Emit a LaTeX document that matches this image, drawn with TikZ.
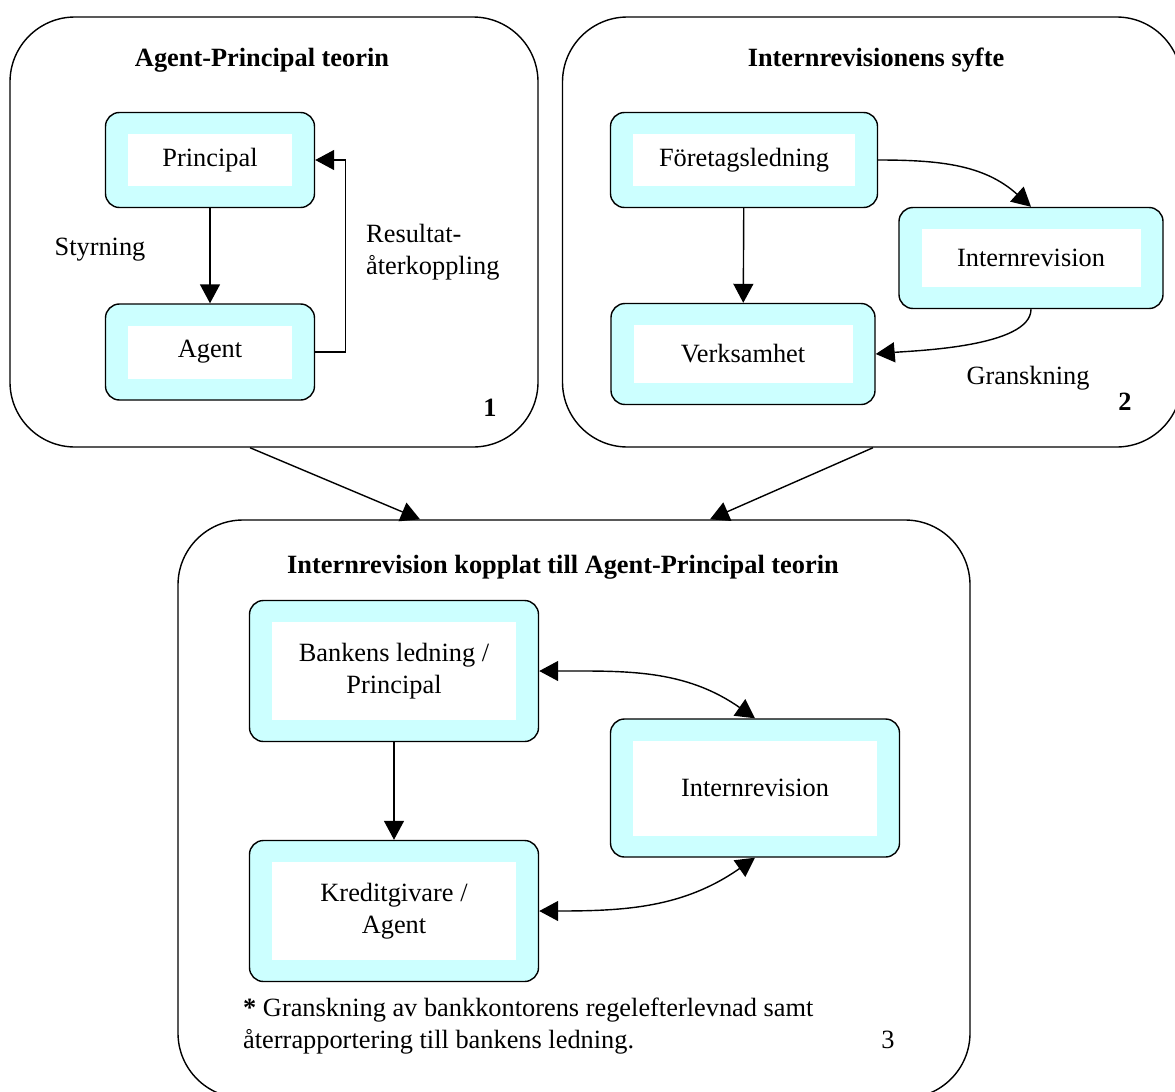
\documentclass[tikz,border=0pt]{standalone}
\usepackage{fontspec}
\setmainfont{Liberation Serif}
\usetikzlibrary{arrows.meta}
\definecolor{boxcyan}{RGB}{204,255,255}

\begin{document}
\begin{tikzpicture}[x=0.2mm,y=0.2mm,>={Triangle[length=0.38cm,width=0.4cm]},
	font=\fontsize{15pt}{18pt}\selectfont,
	frame/.style={draw,line width=0.8pt,rounded corners=1.3cm,inner sep=0pt},
	role/.style={draw,line width=0.8pt,fill=boxcyan,rounded corners=0.28cm,align=center,inner sep=0pt,
		path picture={\fill[white,sharp corners] ([shift={(0.45cm,0.43cm)}]path picture bounding box.south west) rectangle ([shift={(-0.45cm,-0.43cm)}]path picture bounding box.north east);}},
	link/.style={line width=0.8pt,->},
	title/.style={font=\fontsize{15pt}{18pt}\selectfont\bfseries}]
	\path[use as bounding box] (0,0) rectangle (1175,-1091);
	\clip (0,0) rectangle (1175,-1091);
	
	\node[frame,minimum width=10.56cm,minimum height=8.6cm] (teori) at (274,-232) {};
	\node[frame,minimum width=12.38cm,minimum height=8.6cm] (syfte) at (872,-232) {};
	\node[frame,minimum width=15.84cm,minimum height=11.56cm] (koppl) at (574,-809) {};
	
	\node[title] (teorititel) at (262,-60) {Agent-Principal teorin};
	\node[title] (syftetitel) at (876,-60) {Internrevisionens syfte};
	\node[title] (koppltitel) at (563,-567) {Internrevision kopplat till Agent-Principal teorin};
	
	\node[role,minimum width=4.18cm,minimum height=1.9cm] (principal) at (210,-160) {Principal};
	\node[role,minimum width=4.18cm,minimum height=1.92cm] (agent) at (210,-352) {Agent};
	\draw[link] (principal) -- (agent);
	\draw[link] (agent.east) -- ++(30,0) |- (principal.east);
	\node (styrning) at (100,-250) {Styrning};
	\node[anchor=west,align=left] (resultat) at (360,-252) {Resultat-\\återkoppling};
	\node[title] (nr1) at (490,-408) {1};
	
	\node[role,minimum width=5.34cm,minimum height=1.9cm] (ledning) at (744,-160) {Företagsledning};
	\node[role,minimum width=5.28cm,minimum height=2.02cm] (internrev) at (1031,-258) {Internrevision};
	\node[role,minimum width=5.28cm,minimum height=2.02cm] (verksamhet) at (743,-354) {Verksamhet};
	\draw[link] (ledning) -- (verksamhet);
	\draw[link] (ledning.east) to[out=0,in=138] (internrev.north);
	\draw[link] (internrev.south) to[out=-90,in=5,looseness=0.6] (verksamhet.east);
	\node (granskning) at (1028,-378) {Granskning};
	\node[title] (nr2) at (1125,-402) {2};
	
	\draw[link] ([xshift=-0.48cm]teori.south) -- ([xshift=-3.08cm]koppl.north);
	\draw[link] ([xshift=0.02cm]syfte.south) -- ([xshift=2.72cm]koppl.north);
	
	\node[role,minimum width=5.78cm,minimum height=2.82cm] (bank) at (394,-671) {Bankens ledning /\\Principal};
	\node[role,minimum width=5.78cm,minimum height=2.76cm] (internrev3) at (755,-788) {Internrevision};
	\node[role,minimum width=5.78cm,minimum height=2.82cm] (kredit) at (394,-911) {Kreditgivare /\\Agent};
	\draw[link] (bank) -- (kredit);
	\draw[link,<->] (bank.east) to[out=0,in=145] (internrev3.north);
	\draw[link,<->] (kredit.east) to[out=0,in=-145] (internrev3.south);
	
	\node[anchor=west,align=left] (fotnot) at (237,-1026) {\textbf{*} Granskning av bankkontorens regelefterlevnad samt\\återrapportering till bankens ledning.};
	\node (nr3) at (888,-1040) {3};
\end{tikzpicture}
\end{document}
